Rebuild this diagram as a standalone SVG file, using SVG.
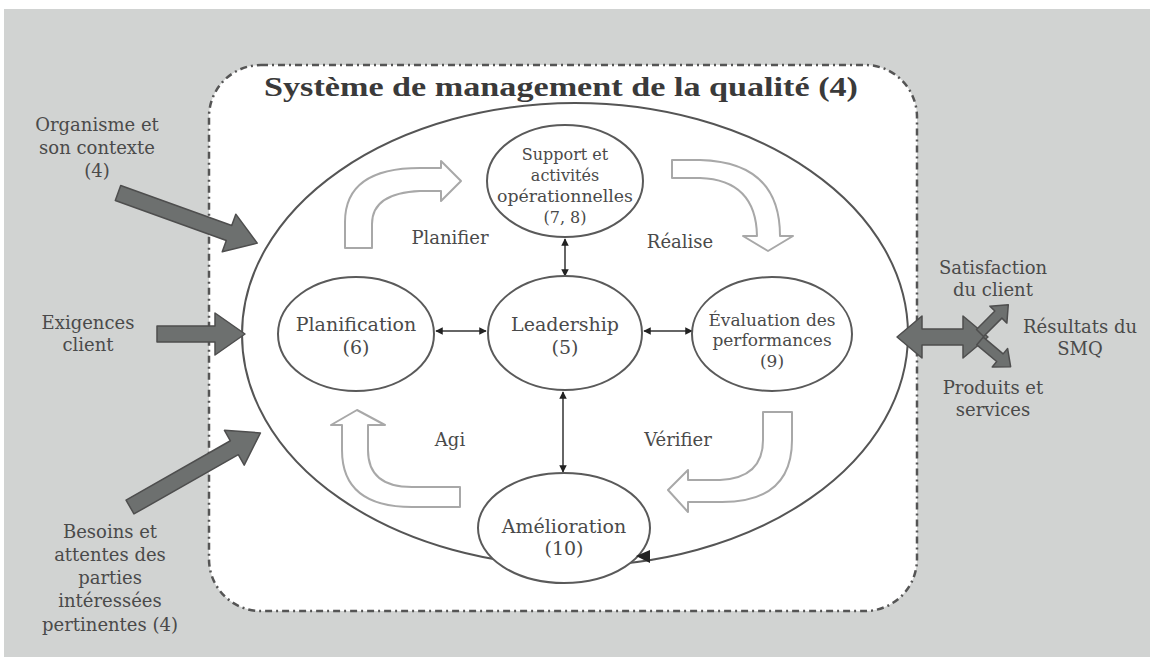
<svg xmlns="http://www.w3.org/2000/svg" width="1150" height="657" viewBox="0 0 1150 657">
<style>
.t{font-family:"DejaVu Serif","Liberation Serif",serif;fill:#4a4a4a;text-anchor:middle}
.lab{font-size:18px}
.node{fill:#fff;stroke:#5a5a5a;stroke-width:2}
.hollow{fill:#fff;stroke:#a8a8a8;stroke-width:2;stroke-linejoin:round}
.big{fill:#6d706f;stroke:#4e4e4e;stroke-width:1.5;stroke-linejoin:round}
.conn{stroke:#333;stroke-width:1.5;fill:none}
</style>
<defs>
<marker id="ah" viewBox="0 0 10 10" refX="9" refY="5" markerWidth="5" markerHeight="5" orient="auto-start-reverse">
<path d="M0,0 L10,5 L0,10 Z" fill="#222"/>
</marker>
</defs>
<rect x="0" y="0" width="1150" height="657" fill="#fff"/>
<rect x="4" y="9" width="1146" height="648" fill="#d1d3d2"/>
<rect id="smq-box" x="209" y="65" width="708" height="546" rx="52" ry="52" fill="#fff" stroke="#555" stroke-width="2.5" stroke-dasharray="7 4 2 4"/>
<text class="t" x="561" y="96" style="font-family:'Liberation Serif',serif;font-size:28px;font-weight:bold;fill:#3a3a3a" textLength="594" lengthAdjust="spacingAndGlyphs">Système de management de la qualité (4)</text>

<ellipse id="cycle" cx="575" cy="334.5" rx="333" ry="231.5" fill="none" stroke="#555" stroke-width="2"/>

<g id="cycle-arrows">
<path class="hollow" d="M345,248 L345,222 Q345,168 420,168 L441,168 L441,161 L461,181 L441,201 L441,191 L420,191 Q372,193 372,224 L372,248 Z"/>
<path class="hollow" d="M672,160 L700,160 Q780,162 780,236 L793,236 L768,251 L743,236 L757,236 Q756,180 700,178 L672,178 Z"/>
<path class="hollow" d="M792,412 L792,440 Q792,502 722,502 L688,502 L688,512 L668,490 L688,470 L688,480 L720,480 Q763,478 763,440 L763,412 Z"/>
<path class="hollow" d="M460,487 L412,487 Q368,487 368,450 L368,425 L385,425 L357,410 L331,425 L342,425 L342,450 Q342,507 412,507 L460,507 Z"/>
</g>
<g id="cycle-labels">
<text class="t lab" x="450" y="244">Planifier</text>
<text class="t lab" x="680" y="248">Réalise</text>
<text class="t lab" x="450" y="446">Agi</text>
<text class="t lab" x="678" y="446">Vérifier</text>
</g>

<g id="connectors">
<line class="conn" x1="436" y1="331" x2="486" y2="331" marker-start="url(#ah)" marker-end="url(#ah)"/>
<line class="conn" x1="644" y1="331" x2="692" y2="331" marker-start="url(#ah)" marker-end="url(#ah)"/>
<line class="conn" x1="565" y1="239" x2="565" y2="276" marker-start="url(#ah)" marker-end="url(#ah)"/>
<line class="conn" x1="563" y1="392" x2="563" y2="472" marker-start="url(#ah)" marker-end="url(#ah)"/>
</g>

<g id="node-support">
<ellipse class="node" cx="565" cy="181" rx="78" ry="56"/>
<text class="t" style="font-size:16px" x="565" y="160">Support et</text>
<text class="t" style="font-size:16px" x="565" y="181">activités</text>
<text class="t" style="font-size:16px" x="565" y="202" textLength="136" lengthAdjust="spacingAndGlyphs">opérationnelles</text>
<text class="t" style="font-size:16px" x="565" y="223">(7, 8)</text>
</g>
<g id="node-planification">
<ellipse class="node" cx="356" cy="334" rx="78" ry="57"/>
<text class="t" style="font-size:19px" x="356" y="331">Planification</text>
<text class="t" style="font-size:19px" x="356" y="354">(6)</text>
</g>
<g id="node-leadership">
<ellipse class="node" cx="565" cy="333" rx="77" ry="57"/>
<text class="t" style="font-size:19px" x="565" y="331">Leadership</text>
<text class="t" style="font-size:19px" x="565" y="354">(5)</text>
</g>
<g id="node-evaluation">
<ellipse class="node" cx="772" cy="334" rx="80" ry="57"/>
<text class="t" style="font-size:17px" x="772" y="326">Évaluation des</text>
<text class="t" style="font-size:17px" x="772" y="346">performances</text>
<text class="t" style="font-size:17px" x="772" y="367">(9)</text>
</g>
<g id="node-amelioration">
<ellipse class="node" cx="564" cy="528" rx="86" ry="55"/>
<text class="t" style="font-size:19px" x="564" y="533">Amélioration</text>
<text class="t" style="font-size:19px" x="564" y="555">(10)</text>
<polygon points="636,556 650,550 650,563" fill="#222"/>
</g>

<g id="inputs">
<polygon class="big" transform="translate(118,193) rotate(19.8)" points="0,-8 118,-8 118,-20 148,0 118,20 118,8 0,8"/>
<polygon class="big" points="157,326 215,326 215,313 245,334 215,355 215,342 157,342"/>
<polygon class="big" transform="translate(130,507) rotate(-29.6)" points="0,-8 120,-8 120,-20 150,0 120,20 120,8 0,8"/>
</g>
<g id="outputs">
<polygon class="big" points="897,337 922,316 922,329 963,329 963,316 988,337 963,358 963,345 922,345 922,358"/>
<polygon class="big" transform="translate(980,333) rotate(-45)" points="0,-5 26,-5 26,-12 40,0 26,12 26,5 0,5"/>
<polygon class="big" transform="translate(980,341) rotate(40)" points="0,-5 26,-5 26,-12 40,0 26,12 26,5 0,5"/>
</g>

<g id="label-organisme">
<text class="t lab" x="97" y="131">Organisme et</text>
<text class="t lab" x="97" y="154">son contexte</text>
<text class="t lab" x="97" y="177">(4)</text>
</g>
<g id="label-exigences">
<text class="t lab" x="88" y="329">Exigences</text>
<text class="t lab" x="88" y="351">client</text>
</g>
<g id="label-besoins">
<text class="t lab" x="110" y="538">Besoins et</text>
<text class="t lab" x="110" y="561">attentes des</text>
<text class="t lab" x="110" y="584">parties</text>
<text class="t lab" x="110" y="607">intéressées</text>
<text class="t lab" x="110" y="631">pertinentes (4)</text>
</g>
<g id="label-satisfaction">
<text class="t lab" x="993" y="274">Satisfaction</text>
<text class="t lab" x="993" y="296">du client</text>
</g>
<g id="label-resultats">
<text class="t lab" x="1080" y="333">Résultats du</text>
<text class="t lab" x="1080" y="355">SMQ</text>
</g>
<g id="label-produits">
<text class="t lab" x="993" y="394">Produits et</text>
<text class="t lab" x="993" y="416">services</text>
</g>
</svg>
